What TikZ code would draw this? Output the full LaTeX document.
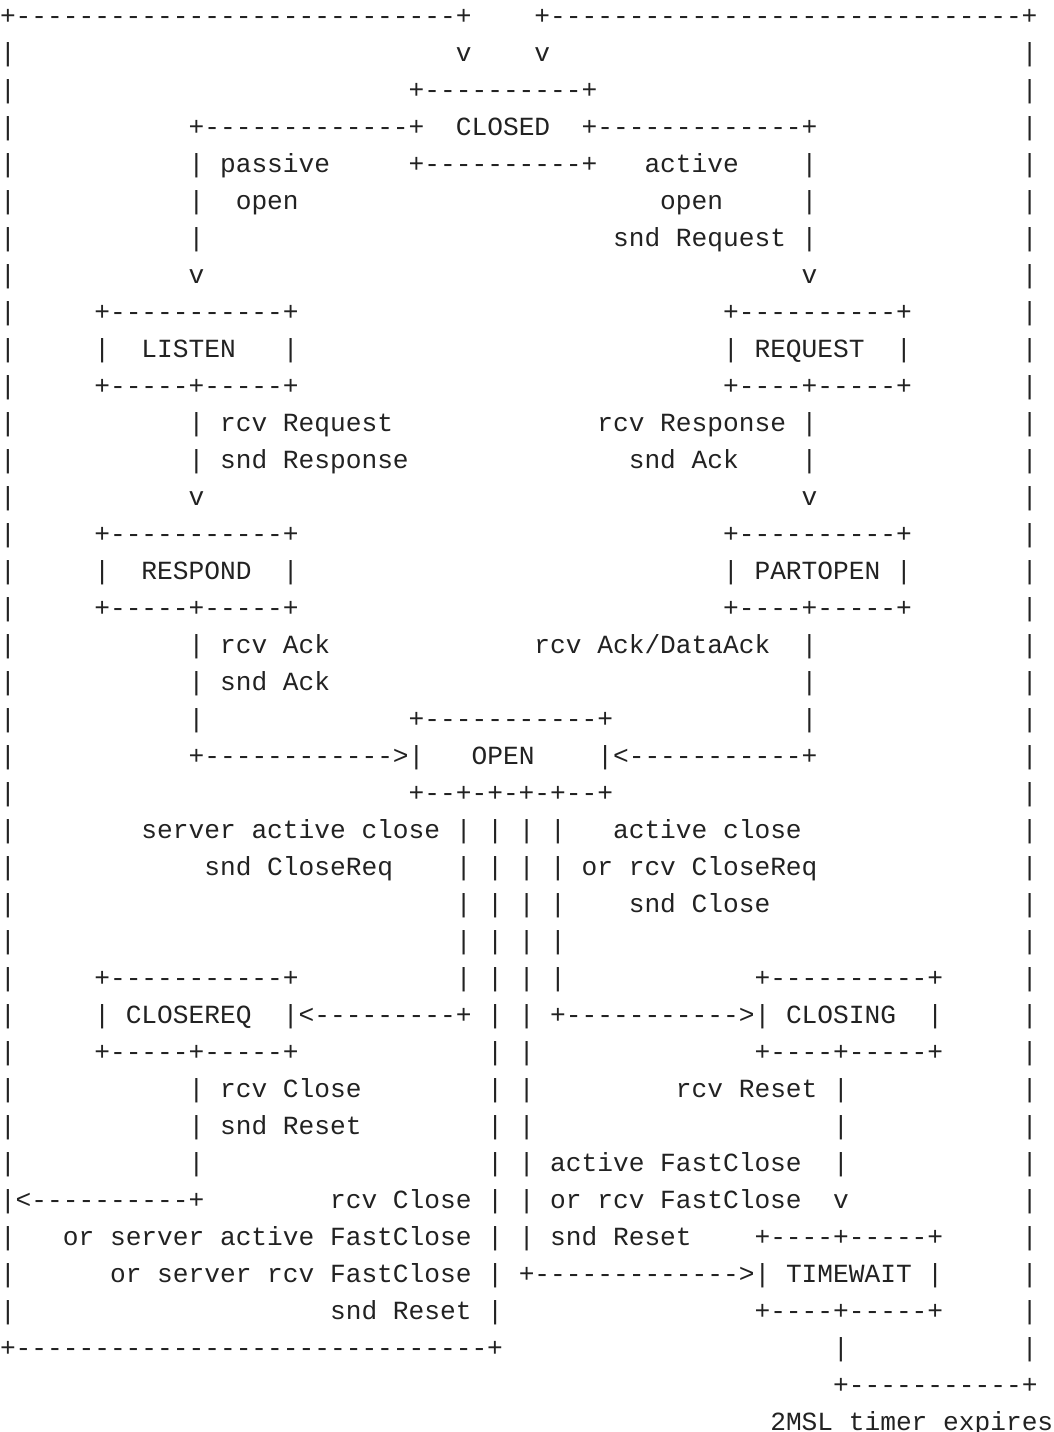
\documentclass[tikz,border=0pt]{standalone}
\usepackage{fontspec}
\setmonofont{Liberation Mono}
\ExplSyntaxOn
\NewDocumentCommand\dashrun{m}{\prg_replicate:nn{#1}{-\kern0pt}}
\ExplSyntaxOff
\definecolor{ink}{HTML}{222222}
\tikzset{txt/.style={anchor=base west, inner sep=0pt, outer sep=0pt, text=ink,
  font=\ttfamily\fontsize{13.098pt}{18.5pt}\selectfont}}
\newcommand\putseg[4]{\node[txt] (#1) at (#2,{#3-0.3514}) {#4};}
\begin{document}
\begin{tikzpicture}[x=7.86pt,y=-18.5pt]
\fill[white] (0pt,0pt) rectangle (527pt,-716pt);
\useasboundingbox (0pt,0pt) rectangle (527pt,-716pt);
% top return lines
\putseg{top-l}{0}{1}{+\dashrun{28}+}
\putseg{top-r}{34}{1}{+\dashrun{30}+}
% outer borders
\foreach \k in {2,...,32} {\putseg{bl\k}{0}{\k}{|}}
\foreach \k in {34,35,36} {\putseg{bl\k}{0}{\k}{|}}
\foreach \k in {2,...,37} {\putseg{br\k}{65}{\k}{|}}
\putseg{v2a}{29}{2}{v}
\putseg{v2b}{34}{2}{v}
% CLOSED
\putseg{closed-t}{26}{3}{+\dashrun{10}+}
\putseg{closed-ll}{12}{4}{+\dashrun{13}+}
\putseg{closed}{29}{4}{CLOSED}
\putseg{closed-rl}{37}{4}{+\dashrun{13}+}
\putseg{closed-b}{26}{5}{+\dashrun{10}+}
\foreach \k in {5,6,7} {\putseg{pl\k}{12}{\k}{|}\putseg{pr\k}{51}{\k}{|}}
\putseg{passive}{14}{5}{passive}
\putseg{popen}{15}{6}{open}
\putseg{active}{41}{5}{active}
\putseg{aopen}{42}{6}{open}
\putseg{sndreq}{39}{7}{snd Request}
\putseg{v8a}{12}{8}{v}
\putseg{v8b}{51}{8}{v}
% LISTEN / REQUEST
\putseg{listen-t}{6}{9}{+\dashrun{11}+}
\putseg{request-t}{46}{9}{+\dashrun{10}+}
\putseg{listen-l}{6}{10}{|}
\putseg{listen}{9}{10}{LISTEN}
\putseg{listen-r}{18}{10}{|}
\putseg{request-l}{46}{10}{|}
\putseg{request}{48}{10}{REQUEST}
\putseg{request-r}{57}{10}{|}
\putseg{listen-b}{6}{11}{+\dashrun{5}+\dashrun{5}+}
\putseg{request-b}{46}{11}{+\dashrun{4}+\dashrun{5}+}
\foreach \k in {12,13} {\putseg{ll\k}{12}{\k}{|}\putseg{lr\k}{51}{\k}{|}}
\putseg{rcvreq}{14}{12}{rcv Request}
\putseg{rcvresp}{38}{12}{rcv Response}
\putseg{sndresp}{14}{13}{snd Response}
\putseg{sndack1}{40}{13}{snd Ack}
\putseg{v14a}{12}{14}{v}
\putseg{v14b}{51}{14}{v}
% RESPOND / PARTOPEN
\putseg{respond-t}{6}{15}{+\dashrun{11}+}
\putseg{partopen-t}{46}{15}{+\dashrun{10}+}
\putseg{respond-l}{6}{16}{|}
\putseg{respond}{9}{16}{RESPOND}
\putseg{respond-r}{18}{16}{|}
\putseg{partopen-l}{46}{16}{|}
\putseg{partopen}{48}{16}{PARTOPEN}
\putseg{partopen-r}{57}{16}{|}
\putseg{respond-b}{6}{17}{+\dashrun{5}+\dashrun{5}+}
\putseg{partopen-b}{46}{17}{+\dashrun{4}+\dashrun{5}+}
\foreach \k in {18,19,20} {\putseg{ql\k}{12}{\k}{|}\putseg{qr\k}{51}{\k}{|}}
\putseg{rcvack}{14}{18}{rcv Ack}
\putseg{rcvdack}{34}{18}{rcv Ack/DataAck}
\putseg{sndack2}{14}{19}{snd Ack}
% OPEN
\putseg{open-t}{26}{20}{+\dashrun{11}+}
\putseg{arr-open-l}{12}{21}{+\dashrun{12}>|}
\putseg{open}{30}{21}{OPEN}
\putseg{arr-open-r}{38}{21}{|<\dashrun{11}+}
\putseg{open-b}{26}{22}{+\dashrun{2}+-+-+-+\dashrun{2}+}
\foreach \k in {23,...,27} {\foreach \c in {29,31,33,35} {\putseg{p\c-\k}{\c}{\k}{|}}}
\putseg{sac}{9}{23}{server active close}
\putseg{ac}{39}{23}{active close}
\putseg{sndcr}{13}{24}{snd CloseReq}
\putseg{orcr}{37}{24}{or rcv CloseReq}
\putseg{sndcl}{40}{25}{snd Close}
% CLOSEREQ / CLOSING
\putseg{closereq-t}{6}{27}{+\dashrun{11}+}
\putseg{closing-t}{48}{27}{+\dashrun{10}+}
\putseg{closereq-l}{6}{28}{|}
\putseg{closereq}{8}{28}{CLOSEREQ}
\putseg{arr-cr}{18}{28}{|<\dashrun{9}+}
\foreach \k in {28,...,34} {\putseg{m31-\k}{31}{\k}{|}\putseg{m33-\k}{33}{\k}{|}}
\putseg{arr-cl}{35}{28}{+\dashrun{11}>|}
\putseg{closing}{50}{28}{CLOSING}
\putseg{closing-r}{59}{28}{|}
\putseg{closereq-b}{6}{29}{+\dashrun{5}+\dashrun{5}+}
\putseg{closing-b}{48}{29}{+\dashrun{4}+\dashrun{5}+}
\foreach \k in {30,31,32} {\putseg{cl\k}{12}{\k}{|}\putseg{cr\k}{53}{\k}{|}}
\putseg{rcvcl}{14}{30}{rcv Close}
\putseg{rcvrst}{43}{30}{rcv Reset}
\putseg{sndrst1}{14}{31}{snd Reset}
\putseg{afc}{35}{32}{active FastClose}
\putseg{arr-left}{0}{33}{|<\dashrun{10}+}
\putseg{rcvcl2}{21}{33}{rcv Close}
\putseg{orfc}{35}{33}{or rcv FastClose}
\putseg{v33}{53}{33}{v}
% TIMEWAIT
\putseg{osafc}{4}{34}{or server active FastClose}
\putseg{sndrst2}{35}{34}{snd Reset}
\putseg{timewait-t}{48}{34}{+\dashrun{4}+\dashrun{5}+}
\putseg{osrfc}{7}{35}{or server rcv FastClose}
\putseg{m31-35}{31}{35}{|}
\putseg{arr-tw}{33}{35}{+\dashrun{13}>|}
\putseg{timewait}{50}{35}{TIMEWAIT}
\putseg{timewait-r}{59}{35}{|}
\putseg{sndrst3}{21}{36}{snd Reset}
\putseg{m31-36}{31}{36}{|}
\putseg{timewait-b}{48}{36}{+\dashrun{4}+\dashrun{5}+}
\putseg{bot-l}{0}{37}{+\dashrun{30}+}
\putseg{tw-down}{53}{37}{|}
\putseg{bot-r}{53}{38}{+\dashrun{11}+}
\putseg{msl}{49}{39}{2MSL timer expires}
\end{tikzpicture}
\end{document}
